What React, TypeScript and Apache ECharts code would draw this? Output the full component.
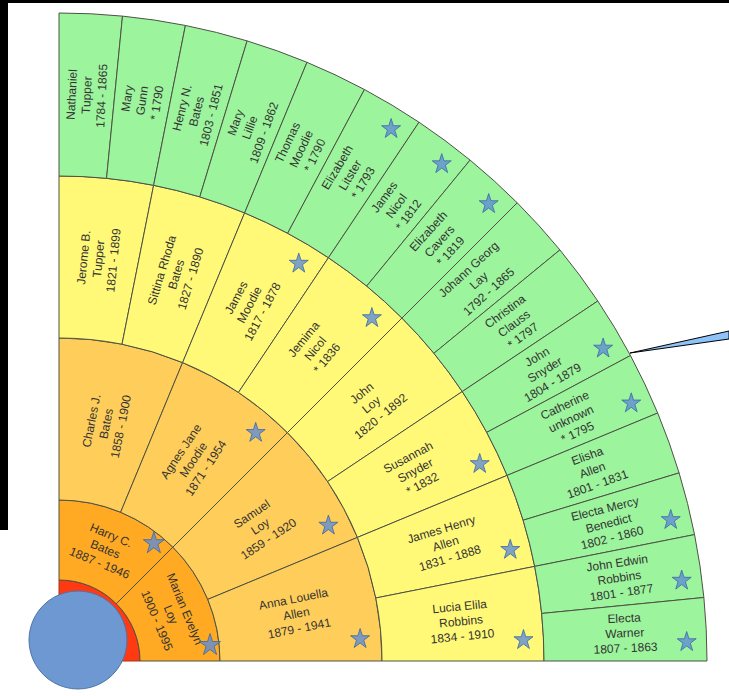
import React, { useEffect, useRef } from "react";
import * as echarts from "echarts";

// Generations, listed clockwise from the top of the fan
const gen2Names = ["Harry C.\nBates\n1887 - 1946", "Marian Evelyn\nLoy\n1900 - 1995"];
const gen3Names = [
  "Charles J.\nBates\n1858 - 1900",
  "Agnes Jane\nMoodie\n1871 - 1954",
  "Samuel\nLoy\n1859 - 1920",
  "Anna Louella\nAllen\n1879 - 1941",
];
const gen4Names = [
  "Jerome B.\nTupper\n1821 - 1899",
  "Sittina Rhoda\nBates\n1827 - 1890",
  "James\nMoodie\n1817 - 1878",
  "Jemima\nNicol\n* 1836",
  "John\nLoy\n1820 - 1892",
  "Susannah\nSnyder\n* 1832",
  "James Henry\nAllen\n1831 - 1888",
  "Lucia Elila\nRobbins\n1834 - 1910",
];
const gen5Names = [
  "Nathaniel\nTupper\n1784 - 1865",
  "Mary\nGunn\n* 1790",
  "Henry N.\nBates\n1803 - 1851",
  "Mary\nLillie\n1809 - 1862",
  "Thomas\nMoodie\n* 1790",
  "Elizabeth\nLitster\n* 1793",
  "James\nNicol\n* 1812",
  "Elizabeth\nCavers\n* 1819",
  "Johann Georg\nLay\n1792 - 1865",
  "Christina\nClauss\n* 1797",
  "John\nSnyder\n1804 - 1879",
  "Catherine\nunknown\n* 1795",
  "Elisha\nAllen\n1801 - 1831",
  "Electa Mercy\nBenedict\n1802 - 1860",
  "John Edwin\nRobbins\n1801 - 1877",
  "Electa\nWarner\n1807 - 1863",
];

// Star markers (1 = starred)
const gen2Stars = [1, 1];
const gen3Stars = [0, 1, 1, 1];
const gen4Stars = [0, 0, 1, 1, 0, 1, 1, 1];
const gen5Stars = [0, 0, 0, 0, 0, 1, 1, 1, 0, 0, 1, 1, 0, 1, 1, 1];

const CX = 59;
const CY = 661;
const R = 648;
const ringR = [0, 81, 161, 323, 485, 648];
const colors = ["#FF3A12", "#FFAA22", "#FFCE5A", "#FFF977", "#9CF49C"];

const gens = [gen2Names, gen3Names, gen4Names, gen5Names];
const stars = [gen2Stars, gen3Stars, gen4Stars, gen5Stars];
// star placement: [radius px, arc offset px from clockwise edge]
const starPlace = [
  [152, 17],
  [302, 23],
  [465, 22],
  [628, 20],
];

function buildNode(g: number, i: number): any {
  const name = gens[g][i];
  const node: any = { name, itemStyle: { color: colors[g + 1] } };
  if (g < gens.length - 1) {
    node.children = [buildNode(g + 1, 2 * i), buildNode(g + 1, 2 * i + 1)];
  } else {
    node.value = 1;
  }
  return node;
}

export default function App() {
  const ref = useRef<HTMLDivElement>(null);
  useEffect(() => {
    if (!ref.current) return;
    const chart = echarts.init(ref.current, null, { renderer: "svg" });

    const rootNode = {
      name: "",
      itemStyle: { color: colors[0], borderColor: "#A8321A" },
      label: { show: false },
      children: [buildNode(0, 0), buildNode(0, 1)],
    };
    const dummy = {
      name: "",
      value: 48,
      itemStyle: { color: "rgba(0,0,0,0)", borderWidth: 0 },
      label: { show: false },
    };

    const starData: any[] = [];
    stars.forEach((arr, g) => {
      const n = arr.length;
      const [sr, arc] = starPlace[g];
      arr.forEach((s, k) => {
        if (!s) return;
        const endAngle = ((k + 1) * 90) / n;
        const off = ((arc / sr) * 180) / Math.PI;
        starData.push({ value: [sr, endAngle - off], symbolSize: g === 0 ? 21 : 19 });
      });
    });

    const labelBase = {
      color: "#333",
      fontSize: 12,
      fontFamily: "Liberation Sans, Arial, sans-serif",
      lineHeight: 15,
    };

    chart.setOption({
      animation: false,
      polar: { center: [CX, CY], radius: R },
      angleAxis: {
        type: "value",
        min: 0,
        max: 360,
        startAngle: 90,
        clockwise: true,
        show: false,
      },
      radiusAxis: { type: "value", min: 0, max: R, show: false },
      series: [
        {
          type: "sunburst",
          center: [CX, CY],
          radius: [0, R],
          startAngle: 90,
          clockwise: true,
          sort: null,
          nodeClick: false,
          emphasis: { disabled: true },
          itemStyle: { borderColor: "#4d5246", borderWidth: 1 },
          label: { rotate: "radial", ...labelBase },
          levels: [
            {},
            { r0: ringR[0], r: ringR[1] },
            { r0: ringR[1], r: ringR[2], label: { rotate: "tangential" } },
            { r0: ringR[2], r: ringR[3] },
            { r0: ringR[3], r: ringR[4] },
            { r0: ringR[4], r: ringR[5] },
          ],
          data: [rootNode, dummy],
          z: 1,
        },
        {
          type: "scatter",
          coordinateSystem: "polar",
          symbol:
            "path://M50,2 L61.5,37 L98,37 L68.5,58.5 L80,94 L50,72 L20,94 L31.5,58.5 L2,37 L38.5,37 Z",
          itemStyle: { color: "#5F8DD3", borderColor: "#3D66A6", borderWidth: 1 },
          data: starData,
          silent: true,
          z: 5,
        },
      ],
      graphic: [
        {
          type: "circle",
          shape: { cx: 78, cy: 640, r: 49 },
          style: { fill: "#6D98D2", stroke: "#4E73A8", lineWidth: 1 },
          z: 100,
        },
        {
          type: "polygon",
          shape: { points: [[630, 353], [729, 331], [729, 339]] },
          style: { fill: "#8EC3FA", stroke: "#000", lineWidth: 1 },
          z: 100,
        },
        { type: "rect", shape: { x: 0, y: 0, width: 729, height: 3 }, style: { fill: "#000" }, z: 100 },
        { type: "rect", shape: { x: 0, y: 0, width: 8, height: 530 }, style: { fill: "#000" }, z: 100 },
      ],
    });
    return () => chart.dispose();
  }, []);
  return (
    <div
      ref={ref}
      style={{ position: "fixed", left: 0, top: 0, width: 729, height: 696, background: "#fff" }}
    />
  );
}
